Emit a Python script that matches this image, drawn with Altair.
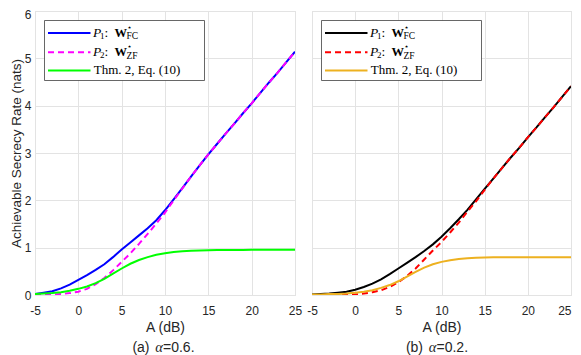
import altair as alt
import pandas as pd

# ---------------- data ----------------
A_dB = list(range(-5, 26))

# (a) alpha = 0.6
fc_a = [0.02, 0.05, 0.08, 0.14, 0.22, 0.32, 0.42, 0.53, 0.65, 0.80, 0.96, 1.11, 1.26, 1.41, 1.58, 1.79,
        2.02, 2.26, 2.50, 2.74, 2.97, 3.19, 3.41, 3.62, 3.84, 4.05, 4.27, 4.49, 4.70, 4.92, 5.14]
zf_a = [0.00, 0.01, 0.01, 0.02, 0.04, 0.07, 0.13, 0.23, 0.36, 0.52, 0.70, 0.88, 1.08, 1.29, 1.51, 1.74,
        2.00, 2.25, 2.50, 2.74, 2.97, 3.19, 3.41, 3.62, 3.84, 4.05, 4.27, 4.49, 4.70, 4.92, 5.14]
thm_a = [0.02, 0.03, 0.04, 0.06, 0.09, 0.13, 0.18, 0.25, 0.34, 0.45, 0.56, 0.66, 0.74, 0.80, 0.85, 0.88,
         0.91, 0.925, 0.935, 0.94, 0.945, 0.95, 0.95, 0.95, 0.95, 0.955, 0.955, 0.955, 0.955, 0.955, 0.955]

# (b) alpha = 0.2
fc_b = [0.01, 0.02, 0.03, 0.05, 0.07, 0.11, 0.17, 0.24, 0.33, 0.44, 0.56, 0.68, 0.80, 0.93, 1.07, 1.23,
        1.41, 1.60, 1.80, 2.02, 2.24, 2.46, 2.68, 2.90, 3.11, 3.33, 3.54, 3.76, 3.97, 4.19, 4.41]
zf_b = [0.00, 0.00, 0.00, 0.00, 0.01, 0.01, 0.03, 0.06, 0.10, 0.17, 0.27, 0.40, 0.56, 0.75, 0.94, 1.12,
        1.32, 1.53, 1.76, 1.98, 2.22, 2.46, 2.68, 2.90, 3.11, 3.33, 3.54, 3.76, 3.97, 4.19, 4.41]
thm_b = [0.01, 0.01, 0.02, 0.02, 0.03, 0.05, 0.07, 0.10, 0.15, 0.21, 0.29, 0.39, 0.49, 0.58, 0.65, 0.70,
         0.735, 0.76, 0.775, 0.785, 0.79, 0.795, 0.795, 0.80, 0.80, 0.80, 0.80, 0.80, 0.80, 0.80, 0.80]

x_ticks = [-5, 0, 5, 10, 15, 20, 25]
y_ticks = [0, 1, 2, 3, 4, 5, 6]
series_keys = ["fc", "zf", "thm"]
colors_a = ["#0000FF", "#FF00FF", "#00FF00"]
colors_b = ["#000000", "#FF0000", "#EDB120"]
captions = [("(a)", "=0.6."), ("(b)", "=0.2.")]
y_title = "Achievable Secrecy Rate (nats)"
x_title = "A (dB)"

W_L, W_R, H = 260, 259, 284
TXT = "#262626"
GRID = "#e3e3e3"
SANS = "Liberation Sans"
SERIF = "Liberation Serif"


def one(text, x, y, size, font=SERIF, style="normal", weight="normal", align="left", color="black"):
    return alt.Chart(pd.DataFrame({"k": [0]})).mark_text(
        font=font, fontSize=size, fontStyle=style, fontWeight=weight, align=align,
        baseline="middle", color=color
    ).encode(x=alt.value(x), y=alt.value(y), text=alt.value(text))


def panel(vals, colors, cap, alpha_c, width, left):
    df = pd.DataFrame({
        "A": A_dB * 3,
        "value": vals[0] + vals[1] + vals[2],
        "series": sum([[k] * len(A_dB) for k in series_keys], []),
    })
    if left:
        lab_align = "center"
    else:
        lab_align = {"condition": {"test": "datum.value == 25", "value": "right"}, "value": "center"}
    x = alt.X("A:Q", scale=alt.Scale(domain=[-5, 25], nice=False, zero=False),
              axis=alt.Axis(values=x_ticks, labelExpr="'' + datum.value", grid=True, gridColor=GRID,
                            domain=False, ticks=False, tickSize=0, labelPadding=10, labelFontSize=12,
                            labelFont=SANS, labelColor=TXT, labelFlush=False, labelAlign=lab_align,
                            title=x_title, titleFont=SANS, titleFontSize=14, titleFontWeight="normal",
                            titleColor=TXT, titlePadding=4))
    if left:
        yax = alt.Axis(values=y_ticks, grid=True, gridColor=GRID, domain=False, ticks=False, tickSize=0,
                       labelPadding=4, labelFontSize=12, labelFont=SANS, labelColor=TXT,
                       labelFlush=False,
                       labelOffset={"condition": {"test": "datum.value == 6", "value": 3}, "value": 0},
                       title=y_title, titleFont=SANS, titleFontSize=13.5, titleFontWeight="normal",
                       titleColor=TXT, titlePadding=1)
    else:
        yax = alt.Axis(values=y_ticks, grid=True, gridColor=GRID, domain=False, ticks=False, tickSize=0,
                       labels=False, title="")
    y = alt.Y("value:Q", scale=alt.Scale(domain=[0, 6], nice=False), axis=yax)

    base = alt.Chart(df)
    layers = []
    dashes = [[1, 0], [6, 4], [1, 0]]
    for k, c, d in zip(series_keys, colors, dashes):
        m = base.transform_filter(alt.datum.series == k)
        if d == [1, 0]:
            mk = m.mark_line(color=c, strokeWidth=2, clip=True)
        else:
            mk = m.mark_line(color=c, strokeWidth=2, strokeDash=d, clip=True)
        layers.append(mk.encode(x=x, y=y))

    # legend box
    one_row = pd.DataFrame({"k": [0]})
    layers.append(alt.Chart(one_row).mark_rect(fill="white", stroke="#404040", strokeWidth=0.8).encode(
        x=alt.value(9.5), x2=alt.value(169.5), y=alt.value(9.5), y2=alt.value(69.5)))
    row_y = [21.5, 40.8, 59.0]
    for i, c in enumerate(colors):
        rule = alt.Chart(one_row)
        if i == 1:
            rule = rule.mark_rule(color=c, strokeWidth=2, strokeDash=[6, 4])
        else:
            rule = rule.mark_rule(color=c, strokeWidth=2)
        layers.append(rule.encode(x=alt.value(13), x2=alt.value(55.5), y=alt.value(row_y[i] + 0.5)))
    subs = ["1", "2"]
    supsub = ["FC", "ZF"]
    for i in range(2):
        y0 = row_y[i]
        layers.append(one("P", 58, y0, 13.5, style="italic"))
        layers.append(one(subs[i], 65, y0 + 3.5, 9))
        layers.append(one(":", 69.5, y0, 13.5))
        layers.append(one("W", 79.5, y0, 12.5, weight="bold"))
        layers.append(one("\u22c6", 92.3, y0 - 4.5, 8))
        layers.append(one(supsub[i], 91.5, y0 + 3.8, 9.5))
    layers.append(one("Thm.  2,  Eq.  (10)", 58.7, row_y[2], 13))

    # caption
    cy = H + 52.7
    layers.append(one(cap[0], alpha_c - 9.5, cy, 14, font=SANS, align="right", color=TXT))
    layers.append(one("\u03b1", alpha_c, cy, 14.5, style="italic", align="center", color=TXT))
    layers.append(one(cap[1], alpha_c + 4, cy, 14, font=SANS, color=TXT))

    return alt.layer(*layers).properties(width=width, height=H)


left = panel([fc_a, zf_a, thm_a], colors_a, captions[0], 124, W_L, True)
right = panel([fc_b, zf_b, thm_b], colors_b, captions[1], 120.5, W_R, False)

chart = alt.hconcat(left, right, spacing=17, bounds="flush").properties(
    padding={"left": 0, "top": -1, "right": 0, "bottom": 0}
).configure_view(stroke="#262626", strokeWidth=1).configure(background="white")

chart.save("out.html", embed_options={"renderer": "svg", "actions": False})
